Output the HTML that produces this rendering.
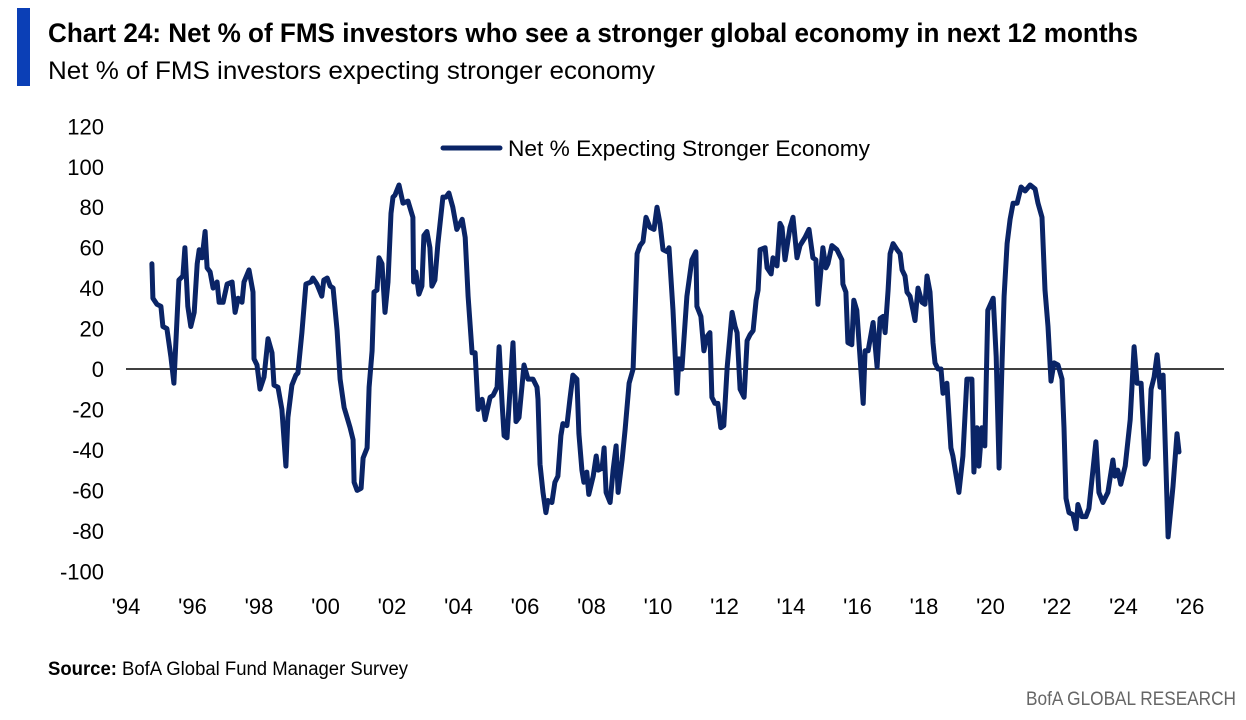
<!DOCTYPE html>
<html><head><meta charset="utf-8"><style>
html,body{margin:0;padding:0;background:#fff;}
svg{display:block;font-family:"Liberation Sans",sans-serif;}
</style></head><body>
<svg id="chart" width="1246" height="720" viewBox="0 0 1246 720" xmlns="http://www.w3.org/2000/svg">
<rect x="17" y="8" width="13" height="78" fill="#0b3fb6"/>
<text x="48" y="42" font-size="27" font-weight="bold" fill="#000" textLength="1090" lengthAdjust="spacingAndGlyphs">Chart 24: Net % of FMS investors who see a stronger global economy in next 12 months</text>
<text x="48" y="79" font-size="25" fill="#000" textLength="607" lengthAdjust="spacingAndGlyphs">Net % of FMS investors expecting stronger economy</text>
<g id="yaxis"></g>
<g id="xaxis"></g>
<line x1="126" y1="369" x2="1224" y2="369" stroke="#000" stroke-width="1.5"/>
<g id="series"></g>
<g>
<line x1="443" y1="148" x2="500" y2="148" stroke="#0a2466" stroke-width="5" stroke-linecap="round"/>
<text x="508" y="156" font-size="22" fill="#000" textLength="362" lengthAdjust="spacingAndGlyphs">Net % Expecting Stronger Economy</text>
</g>
<text x="48" y="675" font-size="19" fill="#000" textLength="360" lengthAdjust="spacingAndGlyphs"><tspan font-weight="bold">Source:</tspan> BofA Global Fund Manager Survey</text>
<text x="1236" y="705" font-size="19" fill="#666" text-anchor="end" textLength="210" lengthAdjust="spacingAndGlyphs">BofA GLOBAL RESEARCH</text>
</svg>
<script>
const dates = [1994.78,1994.81,1994.93,1995.05,1995.11,1995.23,1995.35,1995.44,1995.59,1995.71,1995.77,1995.86,1995.95,1996.05,1996.14,1996.20,1996.29,1996.38,1996.44,1996.53,1996.62,1996.74,1996.80,1996.92,1997.04,1997.19,1997.28,1997.37,1997.49,1997.55,1997.70,1997.82,1997.85,1997.94,1998.03,1998.15,1998.27,1998.39,1998.45,1998.57,1998.69,1998.81,1998.87,1998.99,1999.11,1999.17,1999.29,1999.41,1999.56,1999.62,1999.74,1999.89,1999.95,2000.05,2000.14,2000.23,2000.35,2000.44,2000.56,2000.65,2000.74,2000.83,2000.86,2000.95,2001.07,2001.13,2001.25,2001.31,2001.40,2001.46,2001.55,2001.61,2001.70,2001.79,2001.88,2001.97,2002.03,2002.09,2002.21,2002.33,2002.48,2002.63,2002.65,2002.72,2002.81,2002.90,2002.96,2003.05,2003.14,2003.20,2003.29,2003.38,2003.53,2003.62,2003.71,2003.83,2003.95,2004.11,2004.20,2004.29,2004.41,2004.50,2004.59,2004.71,2004.80,2004.95,2005.04,2005.16,2005.22,2005.31,2005.37,2005.46,2005.64,2005.73,2005.82,2005.97,2006.09,2006.24,2006.36,2006.39,2006.45,2006.54,2006.63,2006.69,2006.81,2006.90,2006.99,2007.08,2007.14,2007.26,2007.35,2007.44,2007.56,2007.62,2007.71,2007.77,2007.86,2007.92,2008.05,2008.14,2008.20,2008.32,2008.38,2008.44,2008.56,2008.65,2008.74,2008.80,2008.92,2009.01,2009.13,2009.25,2009.37,2009.46,2009.55,2009.64,2009.76,2009.88,2009.97,2010.06,2010.15,2010.27,2010.33,2010.45,2010.57,2010.63,2010.72,2010.87,2011.02,2011.14,2011.17,2011.29,2011.38,2011.47,2011.56,2011.62,2011.71,2011.80,2011.89,2011.98,2012.08,2012.23,2012.32,2012.38,2012.47,2012.59,2012.68,2012.77,2012.86,2012.95,2013.01,2013.07,2013.22,2013.28,2013.40,2013.46,2013.58,2013.67,2013.73,2013.82,2013.97,2014.06,2014.18,2014.27,2014.42,2014.54,2014.66,2014.75,2014.81,2014.96,2015.05,2015.11,2015.23,2015.38,2015.53,2015.56,2015.65,2015.71,2015.83,2015.89,2015.98,2016.17,2016.23,2016.32,2016.47,2016.59,2016.68,2016.77,2016.83,2016.92,2016.98,2017.07,2017.19,2017.28,2017.34,2017.43,2017.49,2017.58,2017.67,2017.73,2017.82,2017.94,2018.03,2018.09,2018.18,2018.27,2018.33,2018.42,2018.51,2018.57,2018.69,2018.81,2018.87,2019.05,2019.17,2019.29,2019.44,2019.50,2019.59,2019.65,2019.74,2019.83,2019.92,2020.08,2020.17,2020.26,2020.35,2020.41,2020.50,2020.59,2020.68,2020.80,2020.92,2021.04,2021.19,2021.34,2021.43,2021.55,2021.64,2021.73,2021.82,2021.91,2022.03,2022.15,2022.21,2022.27,2022.36,2022.48,2022.57,2022.63,2022.75,2022.87,2022.96,2023.17,2023.26,2023.38,2023.53,2023.68,2023.74,2023.83,2023.92,2024.05,2024.20,2024.32,2024.41,2024.53,2024.65,2024.74,2024.83,2024.92,2025.01,2025.10,2025.19,2025.34,2025.49,2025.61,2025.67];
const values = [52,35,32,31,21,20,6,-7,44,46,60,31,21,28,52,59,55,68,50,48,40,43,33,33,42,43,28,35,33,43,49,38,5,2,-10,-4,15,8,-8,-9,-20,-48,-24,-8,-3,-2,18,42,43,45,42,36,44,45,41,40,19,-5,-19,-24,-29,-35,-56,-60,-59,-44,-39,-9,9,38,39,55,52,28,43,77,85,86,91,82,83,75,43,48,37,41,66,68,60,41,44,62,85,85,87,80,69,74,65,36,8,8,-20,-15,-25,-14,-13,-9,11,-17,-33,-34,13,-26,-24,2,-5,-5,-9,-15,-47,-61,-71,-65,-66,-56,-53,-33,-27,-28,-15,-3,-5,-32,-50,-56,-51,-62,-53,-43,-50,-49,-39,-61,-66,-50,-38,-61,-45,-30,-7,0,57,61,63,75,70,69,80,72,59,58,60,29,-12,5,0,36,54,58,31,26,9,16,18,-14,-17,-17,-29,-28,1,28,21,18,-10,-14,14,17,19,34,39,59,60,50,47,55,51,72,70,54,70,75,55,61,65,69,55,54,32,60,50,52,61,59,54,42,38,13,12,34,29,-17,9,9,23,1,25,26,18,39,57,62,59,57,49,46,38,36,29,24,40,33,32,46,38,13,3,0,0,-12,-7,-39,-43,-61,-43,-5,-5,-51,-29,-48,-29,-38,29,35,6,-49,4,36,62,74,82,82,90,88,91,89,82,75,39,21,-6,3,2,-5,-29,-64,-71,-72,-79,-67,-73,-73,-69,-36,-61,-66,-61,-45,-53,-50,-57,-48,-25,11,-7,-7,-47,-44,-10,-4,7,-9,-3,-83,-58,-32,-41];
const yTicks = [120,100,80,60,40,20,0,-20,-40,-60,-80,-100];
const xTickYears = [1994,1996,1998,2000,2002,2004,2006,2008,2010,2012,2014,2016,2018,2020,2022,2024,2026];
const xTickLabels = ["'94","'96","'98","'00","'02","'04","'06","'08","'10","'12","'14","'16","'18","'20","'22","'24","'26"];

const NS = "http://www.w3.org/2000/svg";
function xScale(yr){ return 126 + (yr - 1994) * 33.25; }
function yScale(v){ return 369 - v * 2.0225; }

const yg = document.getElementById('yaxis');
yTicks.forEach(function(t){
  const tx = document.createElementNS(NS,'text');
  
  
  tx.setAttribute('x', 104);
  tx.setAttribute('y', yScale(t) + 8);
  tx.setAttribute('text-anchor', 'end');
  tx.setAttribute('font-size', '22');
  tx.textContent = t;
  yg.appendChild(tx);
});
const xg = document.getElementById('xaxis');
xTickYears.forEach(function(yr, i){
  const tx = document.createElementNS(NS,'text');
  
  
  tx.setAttribute('x', xScale(yr));
  tx.setAttribute('y', 614);
  tx.setAttribute('text-anchor', 'middle');
  tx.setAttribute('font-size', '22');
  tx.textContent = xTickLabels[i];
  xg.appendChild(tx);
});
let d = '';
dates.forEach(function(yr, i){
  d += (i ? 'L' : 'M') + xScale(yr).toFixed(1) + ',' + yScale(values[i]).toFixed(1);
});
const path = document.createElementNS(NS,'path');


path.setAttribute('d', d);
path.setAttribute('fill', 'none');
path.setAttribute('stroke', '#0a2466');
path.setAttribute('stroke-width', '5');
path.setAttribute('stroke-linejoin', 'round');
path.setAttribute('stroke-linecap', 'round');
document.getElementById('series').appendChild(path);
</script>
</body></html>
